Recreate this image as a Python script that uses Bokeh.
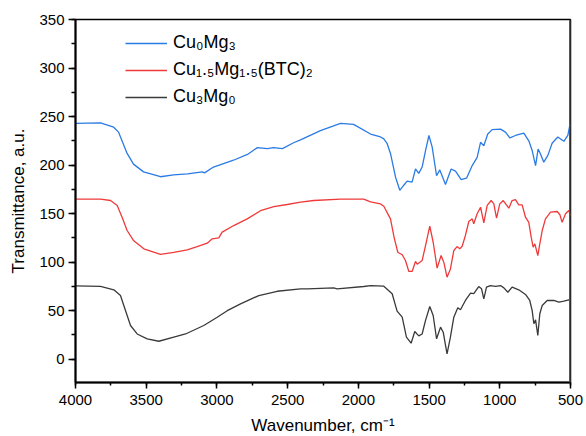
from bokeh.plotting import figure
from bokeh.models import Range1d, Legend, LegendItem, SingleIntervalTicker, Span
from bokeh.embed import file_html
from bokeh.resources import INLINE

# ---- data ----
wn_blue = [4000, 3823, 3730, 3696, 3635, 3590, 3519, 3399, 3307, 3208, 3103, 3088, 3024, 2883, 2784,
           2714, 2643, 2600, 2537, 2458, 2409, 2268, 2126, 2034, 1914, 1843, 1820, 1796, 1773, 1737,
           1707, 1680, 1655, 1620, 1596, 1573, 1549, 1525, 1501, 1478, 1447, 1424, 1384, 1344, 1313,
           1273, 1235, 1195, 1160, 1136, 1113, 1085, 1054, 995, 960, 929, 889, 830, 795, 771, 747,
           729, 712, 689, 660, 630, 590, 547, 519, 505, 500]
t_blue = [243, 243.5, 239, 234, 212, 201, 193, 188, 190, 191, 193, 192, 198, 205, 211,
          218, 217, 218, 217, 223, 226, 235.5, 243, 242, 232, 229, 227, 222, 212, 187.5,
          174, 179, 183.5, 182.5, 196, 191.5, 198, 215, 230.5, 218.5, 189, 195, 180, 196, 193.7,
          185, 186.5, 199.5, 208, 223.5, 220, 232, 236.5, 237, 234, 228, 230.5, 233, 225, 215, 199.5,
          216.5, 211.5, 203, 210, 222.5, 229, 224.5, 230.5, 240.8, 242]

wn_red = [4000, 3823, 3752, 3705, 3670, 3635, 3588, 3517, 3399, 3305, 3210, 3140, 3069, 3033, 2987,
          2963, 2881, 2786, 2692, 2598, 2503, 2409, 2315, 2126, 1962, 1914, 1843, 1820, 1773, 1745,
          1721, 1690, 1667, 1643, 1620, 1596, 1584, 1549, 1525, 1495, 1471, 1443, 1415, 1396, 1373,
          1349, 1325, 1302, 1283, 1266, 1243, 1219, 1195, 1184, 1160, 1136, 1113, 1089, 1061, 1042,
          1023, 1000, 976, 953, 936, 913, 889, 866, 842, 818, 795, 778, 764, 752, 731, 717, 700,
          677, 641, 594, 575, 559, 535, 512, 500]
t_red = [165, 165, 163.5, 158.3, 146, 132.6, 122, 113.7, 108, 110, 112.7, 116, 119.5, 124, 125,
         131, 137.7, 144.6, 153, 157.3, 159.4, 161.8, 163.5, 165, 165, 162, 160, 157.6, 144.6, 124,
         110.2, 107.6, 101.7, 90.4, 90.4, 100.7, 97.9, 101.7, 117, 137, 120.5, 93.8, 106.8, 100, 84.5,
         93, 112, 116, 113.7, 116.4, 127.5, 141.9, 144.6, 139.5, 149.8, 156.6, 140.5, 158.4, 163.5, 160,
         145.3, 160, 163.5, 159, 155.6, 163.5, 164.5, 159, 159, 146.3, 141, 125.7, 115.4, 118.9, 106.8, 118.9, 132.6,
         144.6, 151.5, 152.2, 148.8, 141, 149.8, 153.2, 148]

wn_black = [4000, 3823, 3729, 3682, 3646, 3611, 3564, 3493, 3411, 3305, 3222, 3093, 2998, 2927, 2833,
            2704, 2574, 2409, 2362, 2174, 2150, 1962, 1914, 1820, 1761, 1726, 1690, 1660, 1627, 1601,
            1573, 1549, 1525, 1495, 1471, 1447, 1419, 1400, 1373, 1349, 1325, 1297, 1278, 1243, 1207,
            1184, 1149, 1129, 1113, 1094, 1066, 1030, 995, 971, 943, 913, 866, 818, 788, 771, 759,
            747, 731, 717, 700, 665, 618, 582, 547, 512, 500]
t_black = [75.6, 75, 71.5, 65.6, 50, 34.7, 26, 21, 18.5, 22.7, 26, 34.7, 43.3, 50, 57,
           65.6, 70, 72.5, 72.5, 73.5, 72.5, 74.9, 75.9, 75.2, 67.4, 49.5, 43.3, 22.7, 16.5, 28.5,
           24, 26, 40, 54.3, 45, 21, 33, 27.8, 5.5, 22.7, 43.3, 53, 50.9, 60.5, 68,
           67.5, 74.9, 72.5, 62.2, 74.2, 75.9, 75, 75.9, 73.5, 69, 74.2, 71.5, 66.7, 60.5, 50, 36.5,
           40.6, 24.4, 46.8, 55.3, 60.5, 60.5, 58.7, 59.8, 61.2, 59.8]

labels = ["Cu\u2080Mg\u2083", "Cu\u2081.\u2085Mg\u2081.\u2085(BTC)\u2082", "Cu\u2083Mg\u2080"]
colors = ["#2b7be4", "#f03a3a", "#3a3a3a"]

FONT = "Liberation Sans"

p = figure(width=586, height=436, output_backend="svg", toolbar_location=None,
           x_range=Range1d(4000, 500), y_range=Range1d(-24, 350),
           min_border_left=75, min_border_right=16, min_border_top=19, min_border_bottom=54)
p.frame_width = 495
p.frame_height = 363
p.background_fill_color = "white"
p.border_fill_color = "white"
p.grid.visible = False
p.outline_line_color = "black"
p.outline_line_width = 1.5

r1 = p.line(wn_blue, t_blue, line_color=colors[0], line_width=1.3)
r2 = p.line(wn_red, t_red, line_color=colors[1], line_width=1.3)
r3 = p.line(wn_black, t_black, line_color=colors[2], line_width=1.3)

p.add_layout(Span(location=500, dimension="height", line_color="#555555", line_width=3))

for ax in (p.xaxis[0], p.yaxis[0]):
    ax.axis_line_width = 2
    ax.axis_line_color = "black"
    ax.major_tick_line_color = "black"
    ax.minor_tick_line_color = "black"
    ax.major_tick_line_width = 1.5
    ax.minor_tick_line_width = 1.5
    ax.major_tick_in = 0
    ax.minor_tick_in = 0
    ax.major_label_text_font = FONT
    ax.major_label_text_font_size = "15px"
    ax.major_label_text_color = "black"
    ax.axis_label_text_font = FONT
    ax.axis_label_text_font_style = "normal"
    ax.axis_label_text_color = "black"
    ax.axis_label_text_font_size = "17px"

p.xaxis.ticker = SingleIntervalTicker(interval=500, num_minor_ticks=2)
p.yaxis.ticker = SingleIntervalTicker(interval=50, num_minor_ticks=2)
p.xaxis.major_tick_out = 6
p.xaxis.minor_tick_out = 3
p.yaxis.major_tick_out = 7
p.yaxis.minor_tick_out = 4
p.xaxis.major_label_standoff = 6
p.yaxis.major_label_standoff = 4
p.xaxis.axis_label = "Wavenumber, cm\u207b\u00b9"
p.yaxis.axis_label = "Transmittance, a.u."
p.xaxis.axis_label_standoff = 8
p.yaxis.axis_label_standoff = 8

legend = Legend(items=[LegendItem(label=labels[0], renderers=[r1]),
                       LegendItem(label=labels[1], renderers=[r2]),
                       LegendItem(label=labels[2], renderers=[r3])],
                location=(50, 275))
legend.border_line_color = None
legend.background_fill_alpha = 0
legend.padding = 0
legend.margin = 0
legend.spacing = 6
legend.glyph_width = 42
legend.glyph_height = 20
legend.label_height = 20
legend.label_standoff = 6
legend.label_text_font = FONT
legend.label_text_font_size = "18px"
legend.label_text_color = "black"
p.add_layout(legend)

open("out.html", "w").write(file_html(p, INLINE))
